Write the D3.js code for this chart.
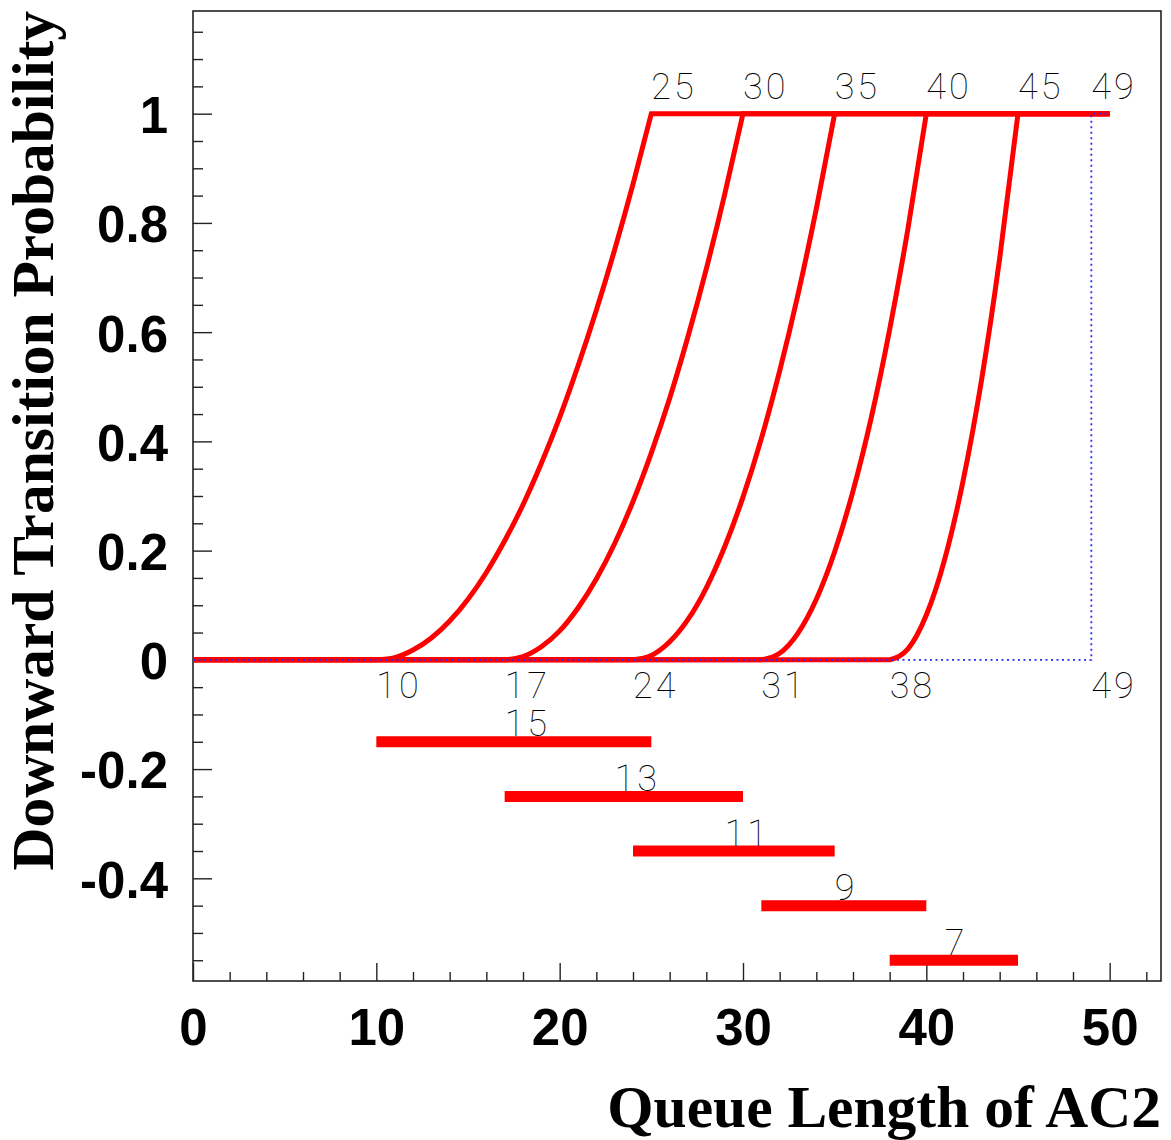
<!DOCTYPE html>
<meta charset="utf-8">
<head>
<title>Downward Transition Probability</title>
<style>
body { margin: 0; background: #fff; }
.tick text { font-family: "Liberation Sans", Arial, sans-serif; font-weight: bold; font-size: 51px; fill: #000; }
.tick line { stroke: #222; stroke-width: 1.4; }
.thin { font-family: "Roboto", sans-serif; font-weight: 100; font-size: 36px; letter-spacing: 3px; fill: #000; }
.title { font-family: "Liberation Serif", "Times New Roman", serif; font-weight: bold; font-size: 59.5px; fill: #000; }
</style>
</head>
<body>
<script src="https://cdnjs.cloudflare.com/ajax/libs/d3/7.8.5/d3.min.js"></script>
<script>

    // Thresholds: curve starts at lower value, reaches 1 at upper value
    var lowQ  = [10, 17, 24, 31, 38],
        highQ = [25, 30, 35, 40, 45],
        spans = [15, 13, 11, 9, 7];

    // Probability at each integer queue length from lowQ to highQ
    var probs = [
        [0, 0.004, 0.018, 0.040, 0.071, 0.111, 0.160, 0.218, 0.284, 0.360, 0.444, 0.538, 0.640, 0.751, 0.871, 1],
        [0, 0.006, 0.024, 0.053, 0.095, 0.148, 0.213, 0.290, 0.379, 0.479, 0.592, 0.716, 0.852, 1],
        [0, 0.008, 0.033, 0.074, 0.132, 0.207, 0.298, 0.405, 0.529, 0.669, 0.826, 1],
        [0, 0.012, 0.049, 0.111, 0.198, 0.309, 0.444, 0.605, 0.790, 1],
        [0, 0.020, 0.082, 0.184, 0.327, 0.510, 0.735, 1]
    ];

    // Range bars below the axis
    var barY      = [-0.15, -0.25, -0.35, -0.45, -0.55],
        barLabelX = [17, 23, 29, 35, 41];

    var qMax = 49, xEnd = 50;
    var xTicks = [0, 10, 20, 30, 40, 50],
        yTicks = [-0.4, -0.2, 0, 0.2, 0.4, 0.6, 0.8, 1];

    var margin = {top: 11, right: 10, bottom: 159, left: 193},
        width = 1171 - margin.left - margin.right,
        height = 1140 - margin.top - margin.bottom;

    var svg = d3.select("body").append("svg")
        .attr("width", 1171)
        .attr("height", 1140);

    var g = svg.append("g")
        .attr("transform", "translate(" + margin.left + "," + margin.top + ")");

    var x = d3.scaleLinear().domain([0, 52.8]).range([0, width]);
    var y = d3.scaleLinear().domain([-0.588, 1.188]).range([height, 0]);

    // Minor ticks
    var xMinor = d3.range(0, 53, 2).filter(function(d) { return d % 10 != 0; });
    var yMinor = d3.range(-11, 24).map(function(d) { return d * 0.05; })
        .filter(function(d) { return Math.abs(Math.round(d * 5) - d * 5) > 0.01; });

    g.append("g")
        .attr("transform", "translate(0," + height + ")")
        .call(d3.axisBottom(x).tickValues(xMinor).tickSize(-9).tickFormat(""))
        .call(function(s) { s.select(".domain").remove(); });

    g.append("g")
        .attr("transform", "translate(0," + height + ")")
        .call(d3.axisBottom(x).tickValues(xTicks).tickSize(-18).tickPadding(28).tickFormat(d3.format("d")))
        .call(function(s) { s.select(".domain").remove(); });

    g.append("g")
        .call(d3.axisLeft(y).tickValues(yMinor).tickSize(-10).tickFormat(""))
        .call(function(s) { s.select(".domain").remove(); });

    g.append("g")
        .call(d3.axisLeft(y).tickValues(yTicks).tickSize(-19).tickPadding(25)
            .tickFormat(function(d) { return String(+d.toFixed(1)); }))
        .call(function(s) {
            s.select(".domain").remove();
            s.selectAll("text").attr("dy", "0.37em");
        });

    // Frame
    g.append("rect")
        .attr("width", width)
        .attr("height", height)
        .attr("fill", "none")
        .attr("stroke", "#222")
        .attr("stroke-width", 1.6);

    // Curves
    var line = d3.line()
        .x(function(d) { return x(d[0]); })
        .y(function(d) { return y(d[1]); })
        .curve(d3.curveMonotoneX);

    var lineStraight = d3.line()
        .x(function(d) { return x(d[0]); })
        .y(function(d) { return y(d[1]); });

    probs.forEach(function(p, i) {
        var pts = p.map(function(v, k) { return [lowQ[i] + k, v]; });
        g.append("path")
            .attr("d", lineStraight([[0, 0], [lowQ[i], 0]]) + line(pts).replace(/^M/, "L") + lineStraight([[highQ[i], 1], [xEnd, 1]]).replace(/^M/, "L"))
            .attr("fill", "none")
            .attr("stroke", "#ff0000")
            .attr("stroke-width", 5);
    });

    // Blue dotted limit
    g.append("path")
        .attr("d", lineStraight([[0, 0], [qMax, 0], [qMax, 1], [xEnd, 1]]))
        .attr("fill", "none")
        .attr("stroke", "#2a2aff")
        .attr("stroke-width", 1.8)
        .attr("stroke-dasharray", "2,3.5");

    // Threshold labels
    var topLabels = highQ.concat([qMax]);
    g.selectAll(".toplab")
        .data(topLabels)
        .enter().append("text")
        .attr("class", "thin")
        .attr("x", function(d) { return x(d); })
        .attr("y", y(1.026))
        .text(function(d) { return d; });

    var botLabels = lowQ.concat([qMax]);
    g.selectAll(".botlab")
        .data(botLabels)
        .enter().append("text")
        .attr("class", "thin")
        .attr("x", function(d) { return x(d); })
        .attr("y", y(-0.07))
        .text(function(d) { return d; });

    // Range bars
    lowQ.forEach(function(s, i) {
        g.append("line")
            .attr("x1", x(s))
            .attr("x2", x(highQ[i]))
            .attr("y1", y(barY[i]))
            .attr("y2", y(barY[i]))
            .attr("stroke", "#ff0000")
            .attr("stroke-width", 11);
        g.append("text")
            .attr("class", "thin")
            .attr("x", x(barLabelX[i]))
            .attr("y", y(barY[i] + 0.01))
            .text(spans[i]);
    });

    // Axis titles
    svg.append("text")
        .attr("class", "title")
        .attr("text-anchor", "end")
        .attr("x", 1161)
        .attr("y", 1127)
        .text("Queue Length of AC2");

    svg.append("text")
        .attr("class", "title")
        .attr("text-anchor", "end")
        .attr("transform", "translate(53,11) rotate(-90)")
        .text("Downward Transition Probability");

</script>
</body>
